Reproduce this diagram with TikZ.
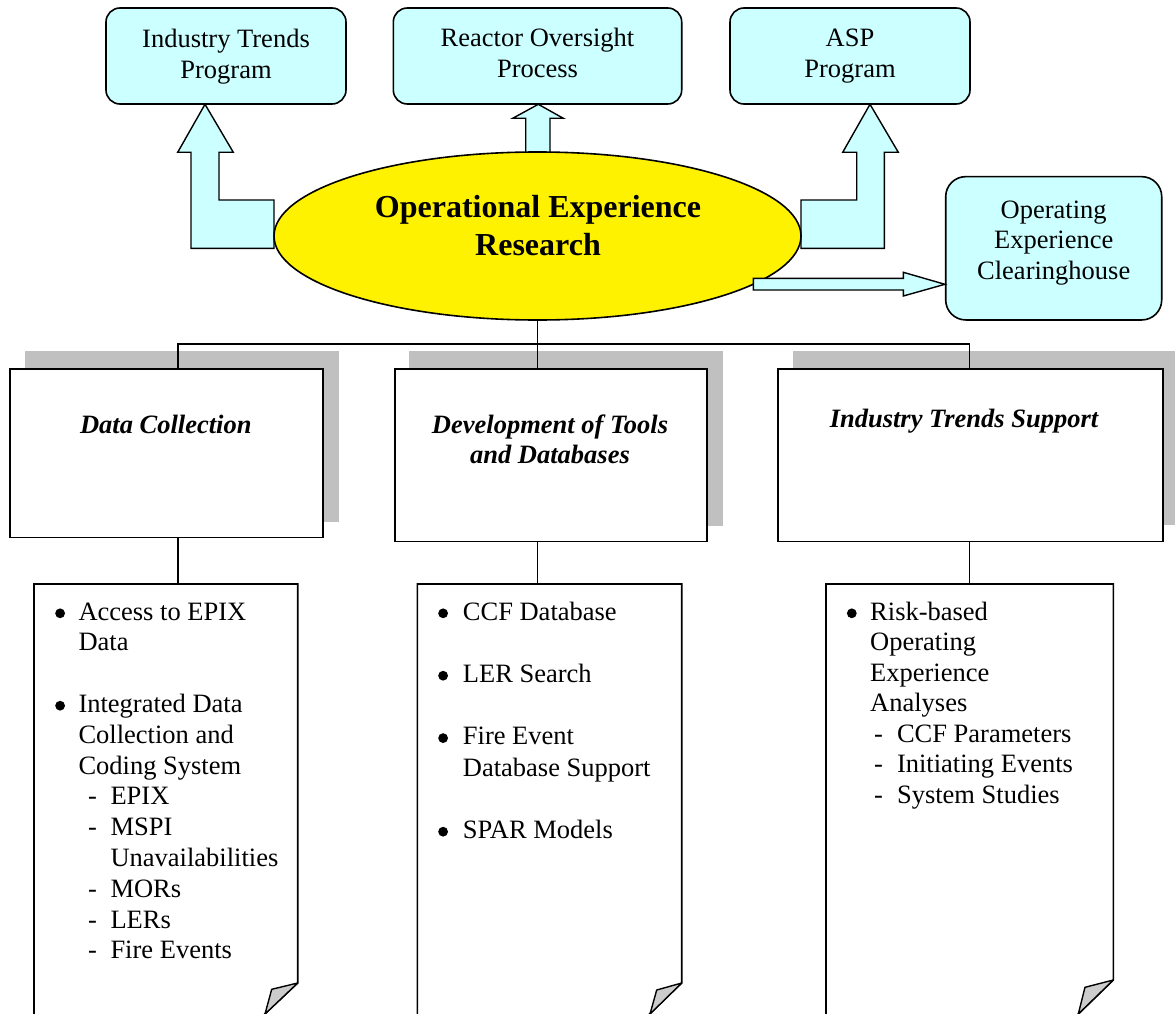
\documentclass[tikz,border=0pt]{standalone}
\usepackage{fontspec}
\setmainfont{Liberation Serif}
\usetikzlibrary{shapes.geometric,calc}
\definecolor{lcyan}{HTML}{CCFFFF}
\definecolor{shadeg}{HTML}{C0C0C0}
\definecolor{foldg}{HTML}{CCCCCC}
\newcommand\txt{\fontsize{26.5}{30.8}\selectfont}
\newcommand\ttl{\fontsize{32}{38}\selectfont\bfseries}
\newcommand\dotb{\tikz[baseline=0pt]{\fill (4.9pt,6.7pt) circle (4.9pt);}}
\newcommand\bl[2]{\hbox{\llap{\dotb\hspace{#1}}#2}}
\newcommand\pl[1]{\hbox{#1}}
\newcommand\sbi[3]{\hbox{\hspace*{#1}-\hspace*{#2}#3}}
\tikzset{
  topbox/.style={draw, line width=1.6pt, fill=lcyan, rounded corners=14pt, inner sep=0pt},
  blockarrow/.style={draw, line width=1.4pt, fill=lcyan, line join=miter},
  hdrbox/.style={draw, line width=1.6pt, fill=white, inner sep=0pt, anchor=north west},
  shadowbox/.style={fill=shadeg},
  lbl/.style={inner sep=0pt, anchor=base, font=\txt},
  tree/.style={line width=1.3pt},
  docbox/.style={draw, line width=1.6pt, fill=white},
  docarea/.style={inner sep=0pt, anchor=north west},
  fold/.style={draw, line width=1.4pt, fill=foldg, line join=round},
  doctext/.style={inner sep=0pt, anchor=base west},
}
\begin{document}
\begin{tikzpicture}[x=1pt, y=-1pt]
\clip (0,0) rectangle (1175,1014);

% top boxes
\node[topbox, minimum width=240pt, minimum height=96pt] (itp) at (226,56) {};
\node[lbl] (itpt) at (226,48) {\begin{tabular}[t]{@{}c@{}}Industry Trends\\Program\end{tabular}};
\node[topbox, minimum width=288.4pt, minimum height=96pt] (rop) at (537.5,56) {};
\node[lbl] (ropt) at (537.5,47) {\begin{tabular}[t]{@{}c@{}}Reactor Oversight\\Process\end{tabular}};
\node[topbox, minimum width=240pt, minimum height=96pt] (asp) at (850,56) {};
\node[lbl] (aspt) at (850,47) {\begin{tabular}[t]{@{}c@{}}ASP\\Program\end{tabular}};
\node[topbox, rounded corners=20pt, minimum width=216pt, minimum height=143.3pt] (oec) at (1053.7,248.3) {};
\node[lbl] (oect) at (1053.7,218) {\begin{tabular}[t]{@{}c@{}}Operating\\Experience\\Clearinghouse\end{tabular}};

% block arrows (under the ellipse)
\draw[blockarrow] (205,104.3) -- (233.3,152.3) -- (219,152.3) -- (219,200) -- (274,200) -- (274,248.3) -- (191,248.3) -- (191,152.3) -- (177.7,152.3) -- cycle;
\draw[blockarrow] (538.3,104.3) -- (563.3,118.3) -- (550,118.3) -- (550,165) -- (525.7,165) -- (525.7,118.3) -- (512.7,118.3) -- cycle;
\draw[blockarrow] (870,104.3) -- (898.3,152.3) -- (884.3,152.3) -- (884.3,248.3) -- (801,248.3) -- (801,200) -- (856.7,200) -- (856.7,152.3) -- (842.7,152.3) -- cycle;

% central ellipse
\node[draw, line width=1.6pt, fill=yellow, ellipse, minimum width=527pt, minimum height=168pt, inner sep=0pt] (oer) at (537.5,236) {};
\node[inner sep=0pt, anchor=base] (oert) at (538,217) {\ttl\begin{tabular}[t]{@{}c@{}}Operational Experience\\Research\end{tabular}};

% arrow to clearinghouse
\draw[blockarrow] (753.3,278.3) -- (903.3,278.3) -- (903.3,272.3) -- (oec.west |- 0,284.3) -- (903.3,296) -- (903.3,290) -- (753.3,290) -- cycle;

% header boxes with shadows
\fill[shadowbox] (25,351) rectangle (339.3,521.7);
\node[hdrbox, minimum width=313pt, minimum height=168.4pt] (hdr1) at (9.3,368.3) {};
\node[lbl, font=\txt\bfseries\itshape] (hdr1t) at (165.8,433) {Data Collection};

\fill[shadowbox] (409,351) rectangle (723.3,526);
\node[hdrbox, minimum width=312pt, minimum height=172.5pt] (hdr2) at (394,368.3) {};
\node[lbl, font=\txt\bfseries\itshape] (hdr2t) at (550,433) {\begin{tabular}[t]{@{}c@{}}Development of Tools\\and Databases\end{tabular}};

\fill[shadowbox] (792.7,351) rectangle (1180,525);
\node[hdrbox, minimum width=385pt, minimum height=172.4pt] (hdr3) at (777.3,368.3) {};
\node[lbl, font=\txt\bfseries\itshape] (hdr3t) at (964,427) {Industry Trends Support};

% tree connectors
\coordinate (bus) at (537.5,344);
\coordinate (c1) at (178,344);
\coordinate (c3) at (969.3,344);
\draw[tree] (oer.south) -- (bus);
\draw[tree] (c1 |- hdr1.north) -- (c1) -- (c3) -- (c3 |- hdr3.north);
\draw[tree] (bus) -- (bus |- hdr2.north);

% documents
\node[docarea, minimum width=263.7pt, minimum height=440pt] (doc1) at (34,584) {};
\draw[docbox] (34,1030) -- (34,584) -- (297.7,584) -- (297.7,983) -- (252,1026) -- (252,1030) -- cycle;
\draw[fold] (297.7,983) -- (271.7,989.3) -- (265,1014) -- cycle;

\node[docarea, minimum width=264.4pt, minimum height=440pt] (doc2) at (417.3,584) {};
\draw[docbox] (417.3,1030) -- (417.3,584) -- (681.7,584) -- (681.7,983) -- (637,1026) -- (637,1030) -- cycle;
\draw[fold] (681.7,983) -- (656.7,990) -- (650,1014) -- cycle;

\node[docarea, minimum width=287.3pt, minimum height=440pt] (doc3) at (826,584) {};
\draw[docbox] (826,1030) -- (826,584) -- (1113.3,584) -- (1113.3,980) -- (1066,1026) -- (1066,1030) -- cycle;
\draw[fold] (1113.3,980) -- (1085,987.3) -- (1078.3,1014) -- cycle;

\draw[tree] (c1 |- hdr1.south) -- (c1 |- doc1.north);
\draw[tree] (bus |- hdr2.south) -- (bus |- doc2.north);
\draw[tree] (c3 |- hdr3.south) -- (c3 |- doc3.north);

% document texts
\node[doctext] (doc1t) at (78.3,620) {\parbox[t]{220pt}{\txt
  \bl{13.5pt}{Access to EPIX}
  \pl{Data}
  \pl{}
  \bl{13.5pt}{Integrated Data}
  \pl{Collection and}
  \pl{Coding System}
  \sbi{9.7pt}{13.5pt}{EPIX}
  \sbi{9.7pt}{13.5pt}{MSPI}
  \pl{\hspace*{32pt}Unavailabilities}
  \sbi{9.7pt}{13.5pt}{MORs}
  \sbi{9.7pt}{13.5pt}{LERs}
  \sbi{9.7pt}{13.5pt}{Fire Events}}};

\node[doctext] (doc2t) at (462.7,620) {\parbox[t]{215pt}{\fontsize{26.5}{31.2}\selectfont
  \bl{14.9pt}{CCF Database}
  \pl{}
  \bl{14.9pt}{LER Search}
  \pl{}
  \bl{14.9pt}{Fire Event}
  \pl{Database Support}
  \pl{}
  \bl{14.9pt}{SPAR Models}}};

\node[doctext] (doc3t) at (870,620) {\parbox[t]{240pt}{\fontsize{26.5}{30.5}\selectfont
  \bl{13.5pt}{Risk-based}
  \pl{Operating}
  \pl{Experience}
  \pl{Analyses}
  \sbi{4pt}{14pt}{CCF Parameters}
  \sbi{4pt}{14pt}{Initiating Events}
  \sbi{4pt}{14pt}{System Studies}}};
\end{tikzpicture}
\end{document}
